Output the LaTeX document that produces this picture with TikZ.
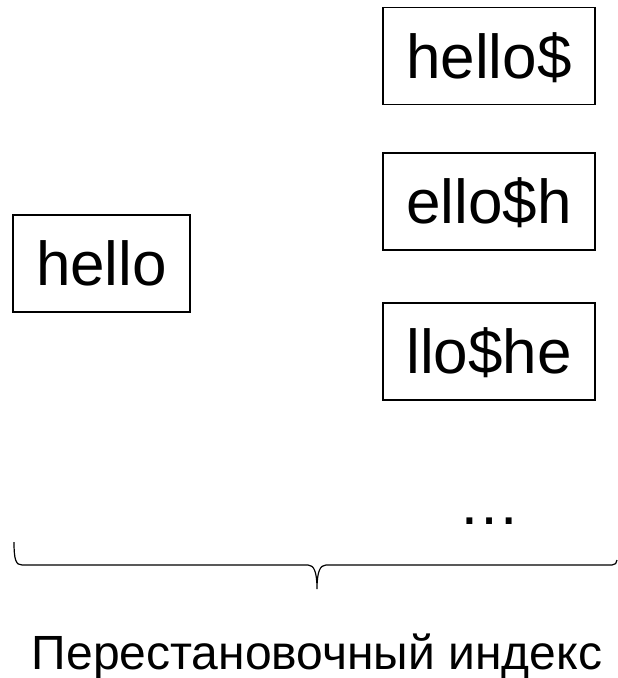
\documentclass[tikz,border=0pt]{standalone}
\usepackage{fontspec}
\setmainfont{Liberation Sans}
\begin{document}
\begin{tikzpicture}[x=1pt,y=-1pt,
  wordbox/.style={draw,line width=1.2pt,inner sep=0pt,font=\fontsize{62}{70}\selectfont,
    text height=44pt,text depth=0pt,minimum height=97pt},
  rotbox/.style={wordbox,minimum width=212pt}]
\useasboundingbox (0,0) rectangle (618,678);
\node[rotbox] (r1) at (489,56) {hello\$};
\node[rotbox] (r2) at (489,201.5) {ello\$h};
\node[rotbox] (r3) at (489,351.5) {llo\$he};
\node[wordbox,minimum width=177pt] (w) at (101.5,263.5) {hello};
\node[anchor=base,inner sep=0pt,font=\fontsize{62}{70}\selectfont] (dots) at (489,524) {…};
\coordinate (bl) at (14,542);
\coordinate (bm) at (317,589);
\coordinate (br) at (617,560);
\draw[line width=1.2pt] (bl) .. controls (14,560) and (16,565) .. (22,565)
  -- (308,565) .. controls (314,565) and (317,572) .. (bm)
  .. controls (317,572) and (320,565) .. (326,565)
  -- (612,565) .. controls (615,565) and (617,563) .. (br);
\node[anchor=base,inner sep=0pt,font=\fontsize{48}{56}\selectfont] (label) at (317,669) {Перестановочный индекс};
\end{tikzpicture}
\end{document}
